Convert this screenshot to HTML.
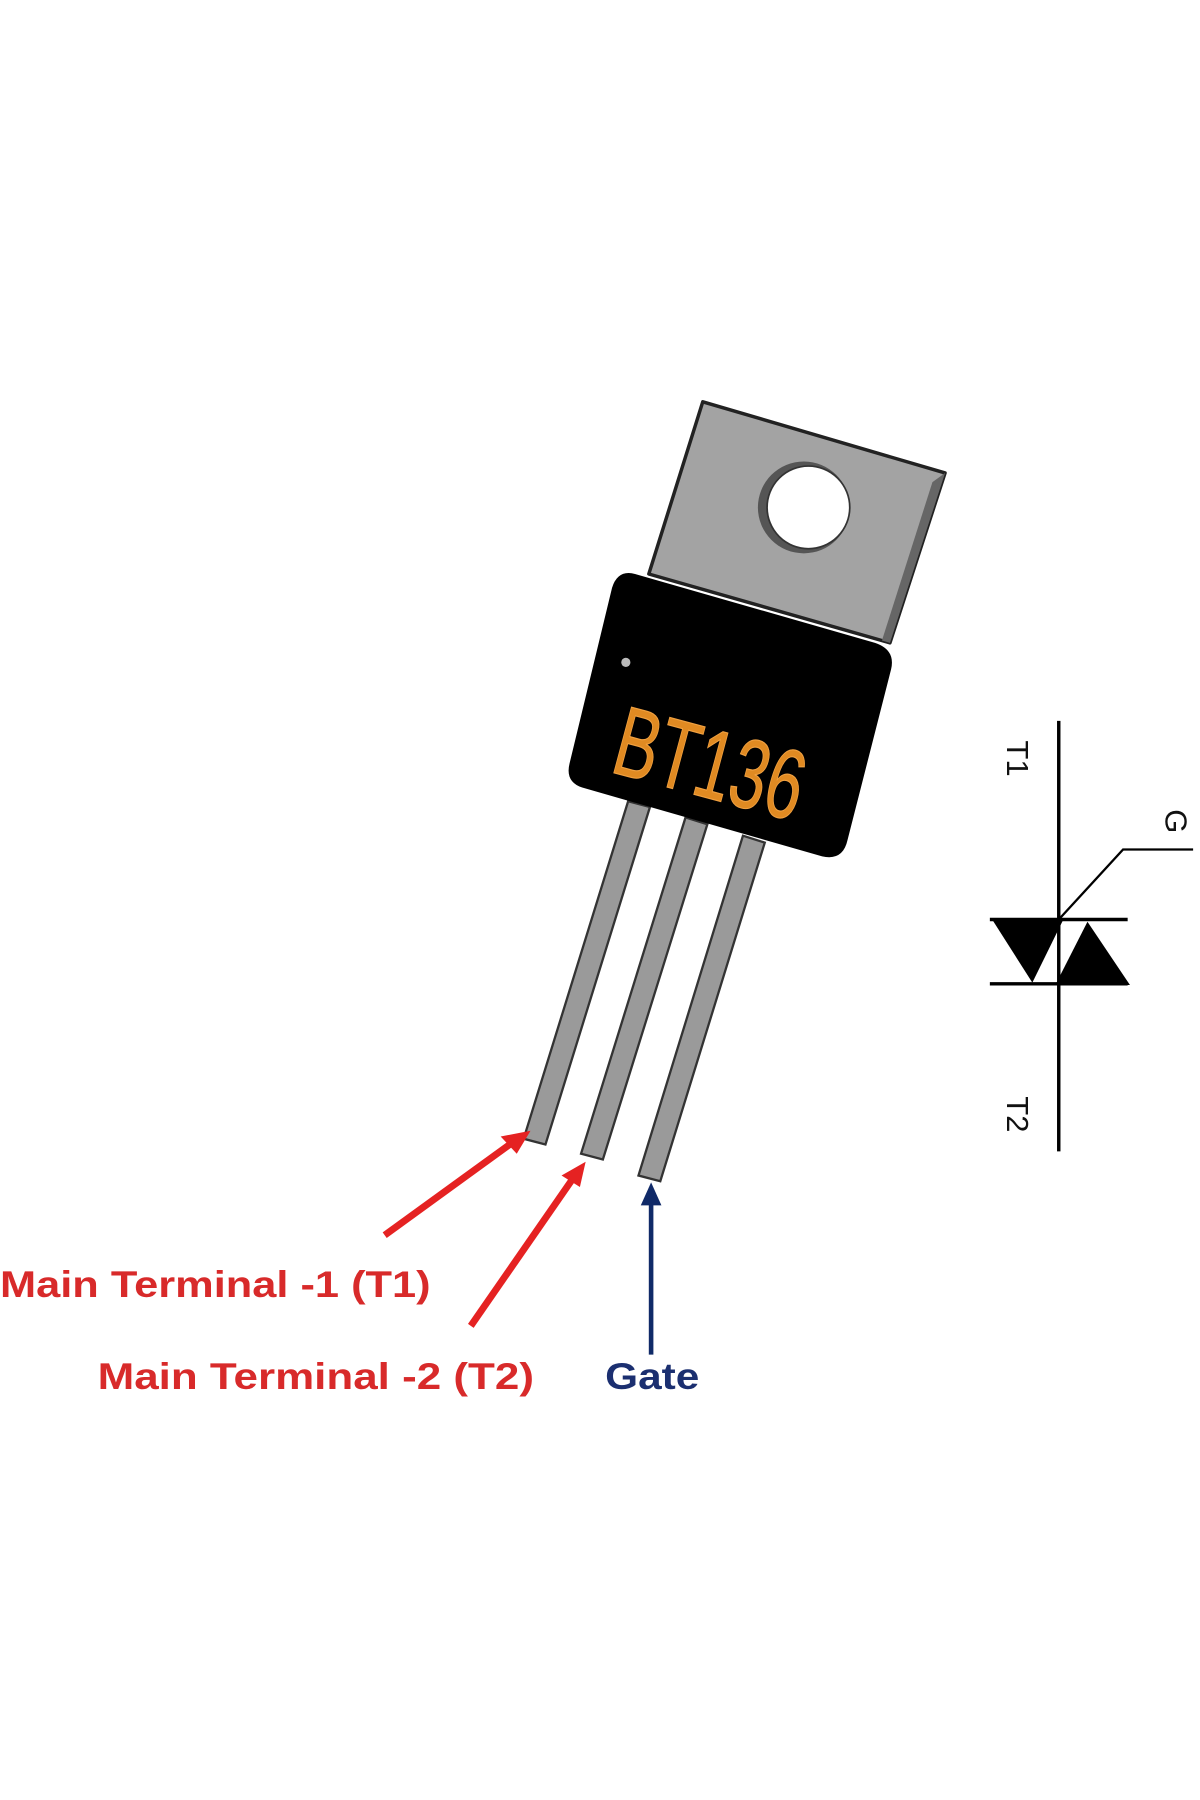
<!DOCTYPE html>
<html><head><style>html,body{margin:0;padding:0;background:#fff}svg{display:block}</style></head>
<body>
<svg width="1200" height="1800" viewBox="0 0 1045 1568" preserveAspectRatio="none" xmlns="http://www.w3.org/2000/svg">
<rect width="1045" height="1568" fill="#fff"/>
<polygon points="612,350 823,412 775,560 565,500" fill="#a3a3a3" stroke="#222" stroke-width="3" stroke-linejoin="round"/>
<polygon points="812,420 823,412 775,560 768,558" fill="#666"/>
<circle cx="700" cy="442" r="40" fill="#555"/>
<circle cx="704" cy="442" r="36" fill="#fff" stroke="#333" stroke-width="1.5"/>
<g stroke="#333" stroke-width="2" fill="#9a9a9a">
<polygon points="547,698 566,703 475,997 456,992"/>
<polygon points="597,712 616,718 525,1010 506,1005"/>
<polygon points="647,728 666,734 575,1029 556,1024"/>
</g>
<path d="M553,500 L762,560 Q780,566 776,583 L738,732 Q734,750 716,746 L507,686 Q492,681 496,665 L533,512 Q538,496 553,500 Z" fill="#000"/>
<circle cx="545" cy="577" r="4" fill="#bbb"/>
<text x="0" y="0" transform="translate(530,672) rotate(15) scale(0.66,1)" font-family="Liberation Sans, sans-serif" font-size="86" fill="#e08a22" stroke="#f0a040" stroke-width="1">BT136</text>
<g stroke="#e52222" stroke-width="6" fill="#e52222">
<line x1="335" y1="1076" x2="448" y2="994"/>
<line x1="410" y1="1155" x2="500" y2="1025"/>
</g>
<polygon points="462,985 436,990 450,1005" fill="#e52222"/>
<polygon points="510,1012 489,1024 505,1034" fill="#e52222"/>
<line x1="567" y1="1180" x2="567" y2="1045" stroke="#102a68" stroke-width="4"/>
<polygon points="567,1030 558,1050 576,1050" fill="#102a68"/>
<g font-family="Liberation Sans, sans-serif" font-weight="bold" font-size="32">
<text x="0" y="1130" fill="#d82a2a" textLength="375" lengthAdjust="spacingAndGlyphs">Main Terminal  -1 (T1)</text>
<text x="85" y="1210" fill="#d82a2a" textLength="380" lengthAdjust="spacingAndGlyphs">Main Terminal  -2 (T2)</text>
<text x="527" y="1210" fill="#1b2f70" textLength="82" lengthAdjust="spacingAndGlyphs">Gate</text>
</g>
<g stroke="#000" stroke-width="3" fill="none">
<line x1="922" y1="628" x2="922" y2="1003"/>
<line x1="862" y1="801" x2="982" y2="801"/>
<line x1="862" y1="857" x2="982" y2="857"/>
<polyline points="922,801 978,740 1039,740" stroke-width="2"/>
</g>
<polygon points="864,801 926,801 899,856" fill="#000"/>
<polygon points="919,858 984,858 947,803" fill="#000"/>
<g font-family="Liberation Sans, sans-serif" font-size="27" fill="#111">
<text transform="translate(877,645) rotate(90)">T1</text>
<text transform="translate(877,955) rotate(90)">T2</text>
<text transform="translate(1015,705) rotate(90)">G</text>
</g>
</svg>
</body></html>
